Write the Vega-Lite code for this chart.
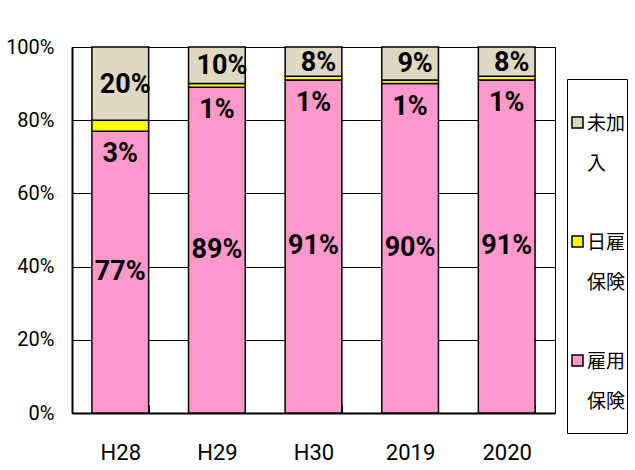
{
  "$schema": "https://vega.github.io/schema/vega-lite/v6.json",
  "width": 483,
  "height": 366,
  "autosize": {"type": "none"},
  "padding": {"left": 72, "top": 47, "right": 80, "bottom": 57},
  "background": "white",
  "config": {"view": {"stroke": "black", "strokeWidth": 1}, "font": "Roboto"},
  "data": {
    "values": [
      {"year": "H28", "type": "雇用保険", "k": 1, "v": 0.77},
      {"year": "H28", "type": "日雇保険", "k": 2, "v": 0.03},
      {"year": "H28", "type": "未加入", "k": 3, "v": 0.20},
      {"year": "H29", "type": "雇用保険", "k": 1, "v": 0.89},
      {"year": "H29", "type": "日雇保険", "k": 2, "v": 0.01},
      {"year": "H29", "type": "未加入", "k": 3, "v": 0.10},
      {"year": "H30", "type": "雇用保険", "k": 1, "v": 0.91},
      {"year": "H30", "type": "日雇保険", "k": 2, "v": 0.01},
      {"year": "H30", "type": "未加入", "k": 3, "v": 0.08},
      {"year": "2019", "type": "雇用保険", "k": 1, "v": 0.90},
      {"year": "2019", "type": "日雇保険", "k": 2, "v": 0.01},
      {"year": "2019", "type": "未加入", "k": 3, "v": 0.09},
      {"year": "2020", "type": "雇用保険", "k": 1, "v": 0.91},
      {"year": "2020", "type": "日雇保険", "k": 2, "v": 0.01},
      {"year": "2020", "type": "未加入", "k": 3, "v": 0.08}
    ]
  },
  "encoding": {
    "x": {
      "field": "year", "type": "nominal",
      "sort": ["H28", "H29", "H30", "2019", "2020"],
      "scale": {"paddingInner": 0.413, "paddingOuter": 0.2065},
      "axis": {
        "title": null, "labelAngle": 0, "labelFont": "Roboto", "labelFontSize": 22,
        "labelColor": "black", "labelPadding": 37, "tickBand": "extent",
        "tickSize": -8, "tickColor": "black", "tickWidth": 1,
        "domainColor": "black", "domainWidth": 2, "grid": false
      }
    },
    "y": {
      "field": "v", "type": "quantitative", "stack": "zero",
      "scale": {"domain": [0, 1], "nice": false},
      "axis": {
        "title": null, "values": [0, 0.2, 0.4, 0.6, 0.8, 1], "format": ".0%",
        "labelFont": "Roboto", "labelFontSize": 20, "labelColor": "black",
        "labelPadding": 18, "ticks": false, "domainColor": "black", "domainWidth": 2,
        "grid": true, "gridColor": "black", "gridWidth": 1, "gridOpacity": 1
      }
    },
    "detail": {"field": "type", "type": "nominal"},
    "order": {"field": "k", "type": "quantitative"}
  },
  "layer": [
    {
      "mark": {"type": "bar", "stroke": "black", "strokeWidth": 1.5},
      "encoding": {
        "color": {
          "field": "type", "type": "nominal",
          "scale": {"domain": ["未加入", "日雇保険", "雇用保険"], "range": ["#DDD9C3", "#FFFF00", "#FF99CC"]},
          "legend": {
            "orient": "none", "legendX": 495, "legendY": 32,
            "title": " ", "titleFontSize": 10, "titlePadding": 23,
            "strokeColor": "black", "fillColor": "white", "padding": 1, "cornerRadius": 0,
            "symbolType": "square", "symbolSize": 121, "symbolStrokeColor": "black", "symbolStrokeWidth": 1.5,
            "labelFont": "Noto Sans CJK JP", "labelFontSize": 19, "labelColor": "black",
            "labelBaseline": "top", "labelOffset": 0, "labelLimit": 0, "rowPadding": 58,
            "labelExpr": "datum.value === '未加入' ? ['未加','入'] : datum.value === '日雇保険' ? ['日雇','保険'] : ['雇用','\u200b','保険','\u200b']",
            "encode": {
              "labels": {
                "update": {
                  "dy": {"value": -8},
                  "lineHeight": {"signal": "datum.value === '雇用保険' ? 20 : 40"}
                }
              }
            }
          }
        }
      }
    },
    {
      "mark": {"type": "text", "font": "Roboto", "fontWeight": "bold", "fontSize": 27, "baseline": "middle", "color": "black"},
      "encoding": {
        "y": {"field": "v", "type": "quantitative", "stack": "zero", "bandPosition": 0.5},
        "text": {"condition": {"test": "datum.type !== '雇用保険'", "value": ""}, "field": "v", "type": "quantitative", "format": ".0%"}
      }
    },
    {
      "mark": {"type": "text", "font": "Roboto", "fontWeight": "bold", "fontSize": 27, "baseline": "middle", "color": "black", "dy": 23},
      "encoding": {
        "y": {"field": "v", "type": "quantitative", "stack": "zero", "bandPosition": 0},
        "text": {"condition": {"test": "datum.type !== '日雇保険'", "value": ""}, "field": "v", "type": "quantitative", "format": ".0%"}
      }
    },
    {
      "mark": {"type": "text", "font": "Roboto", "fontWeight": "bold", "fontSize": 27, "baseline": "middle", "color": "black", "dx": 5, "dy": 1},
      "encoding": {
        "y": {"field": "v", "type": "quantitative", "stack": "zero", "bandPosition": 0.5},
        "text": {"condition": {"test": "datum.type !== '未加入'", "value": ""}, "field": "v", "type": "quantitative", "format": ".0%"}
      }
    }
  ]
}
